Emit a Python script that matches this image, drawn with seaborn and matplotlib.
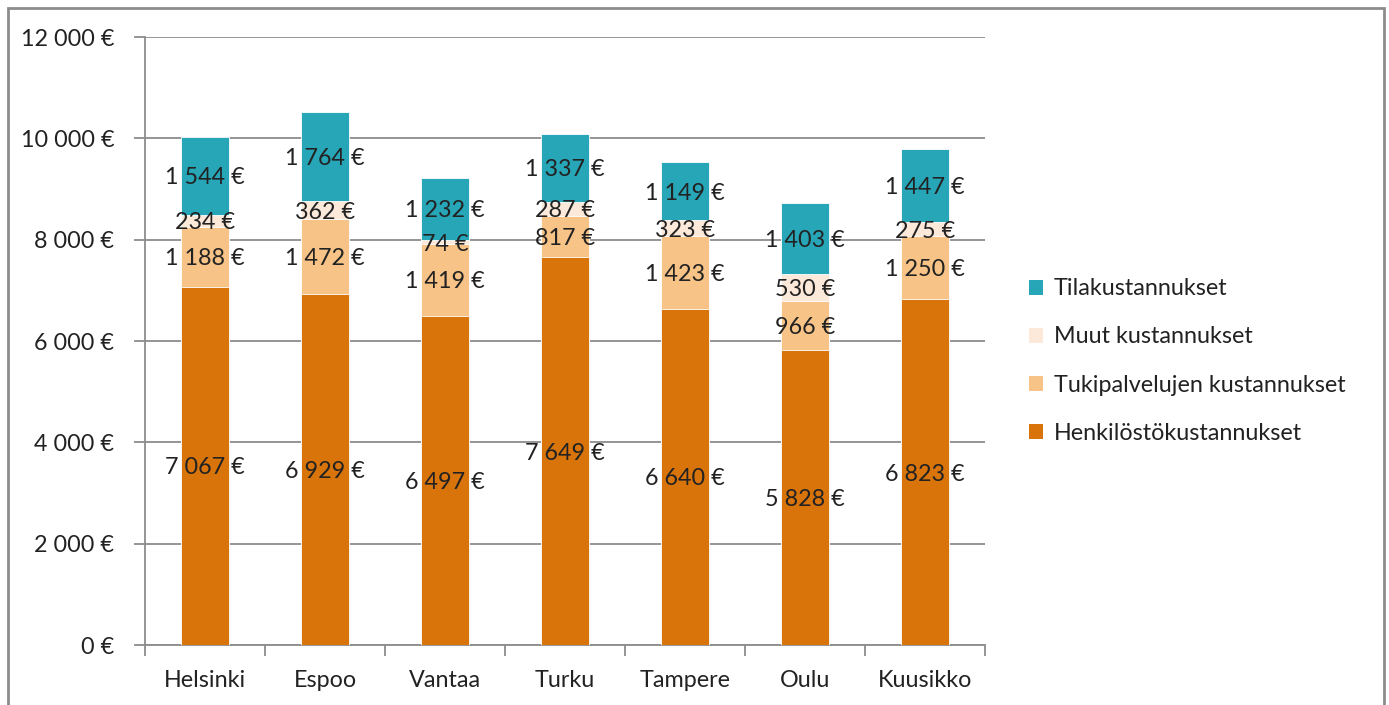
import matplotlib
matplotlib.use("Agg")
import matplotlib.pyplot as plt
import seaborn as sns
import numpy as np
import pandas as pd
from matplotlib.patches import Rectangle, Patch

cities = ["Helsinki", "Espoo", "Vantaa", "Turku", "Tampere", "Oulu", "Kuusikko"]
henkilosto = [7067, 6929, 6497, 7649, 6640, 5828, 6823]
tukipalvelu = [1188, 1472, 1419, 817, 1423, 966, 1250]
muut = [234, 362, 74, 287, 323, 530, 275]
tila = [1544, 1764, 1232, 1337, 1149, 1403, 1447]

series_names = ["Henkilöstökustannukset", "Tukipalvelujen kustannukset",
                "Muut kustannukset", "Tilakustannukset"]
colors = ["#D9740A", "#F8C387", "#FDE9DA", "#27A6B8"]
yticks = [0, 2000, 4000, 6000, 8000, 10000, 12000]

sns.set_theme(style="white")
plt.rcParams["font.family"] = ["Lato", "DejaVu Sans"]
FS = 16.8

def fmt(v):
    return f"{v:,}".replace(",", " ") + " €"

fig = plt.figure(figsize=(13.89, 7.05), dpi=100)
ax = fig.add_axes([145/1389, 1-645/705, (985-145)/1389, (645-37)/705])

series = [henkilosto, tukipalvelu, muut, tila]
cum = np.cumsum(np.array(series), axis=0)
df = pd.DataFrame({"city": cities})

# draw from top (total) to bottom so lower segments overlay
for i in range(3, -1, -1):
    df["val"] = cum[i]
    sns.barplot(data=df, x="city", y="val", color=colors[i], saturation=1,
                width=0.4, ax=ax, edgecolor="white", linewidth=0.6, zorder=3)

# labels
for i in range(4):
    bottoms = cum[i] - np.array(series[i])
    for j, v in enumerate(series[i]):
        ax.text(j, bottoms[j] + v/2, fmt(v), ha="center", va="center_baseline",
                fontsize=FS, color="#222222", zorder=5)

ax.set_ylim(0, 12000)
ax.set_xlim(-0.5, 6.5)
ax.set_yticks(yticks)
ax.set_yticklabels([fmt(v) for v in yticks], fontsize=FS, color="#222222")
ax.set_xticks(range(len(cities)))
ax.set_xticklabels(cities, fontsize=FS, color="#222222")
ax.set_xticks(np.arange(-0.5, 7, 1), minor=True)
ax.tick_params(axis="x", which="major", length=0, pad=18)
ax.tick_params(axis="x", which="minor", length=8, color="#8c8c8c", width=1.3, direction="out", bottom=True)
ax.tick_params(axis="y", which="major", length=8, color="#8c8c8c", width=1.3, direction="out", left=True, pad=14)
ax.set_xlabel("")
ax.set_ylabel("")
ax.grid(axis="y", color="#8c8c8c", linewidth=1.3, zorder=0)
ax.set_axisbelow(True)
for s in ["top", "right"]:
    ax.spines[s].set_visible(False)
for s in ["left", "bottom"]:
    ax.spines[s].set_color("#8c8c8c")
    ax.spines[s].set_linewidth(1.3)

handles = [Patch(facecolor=colors[i], edgecolor="none") for i in range(3, -1, -1)]
labels = [series_names[i] for i in range(3, -1, -1)]
fig.legend(handles, labels, loc="center left", bbox_to_anchor=(1029/1389, 1-361/705),
           frameon=False, fontsize=FS, handlelength=0.62, handleheight=0.62,
           handletextpad=0.45, labelspacing=1.16, labelcolor="#222222",
           borderpad=0, borderaxespad=0)

fig.patches.append(Rectangle((8/1389, -0.1), (1384-8)/1389, 1.1 - 8/705,
                             transform=fig.transFigure, fill=False,
                             edgecolor="#8c8c8c", linewidth=2))

fig.savefig("out.png", dpi=100)
